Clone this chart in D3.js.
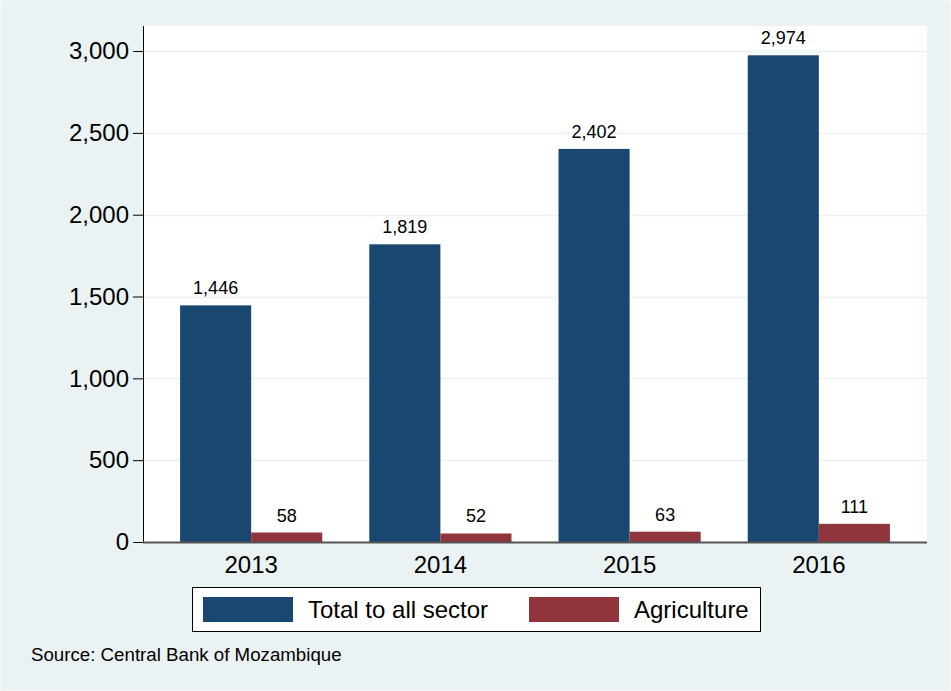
<!DOCTYPE html>
<html>
<head>
<meta charset="utf-8">
<script src="https://cdn.jsdelivr.net/npm/d3@7"></script>
<style>
  html, body { margin: 0; padding: 0; background: #eaf2f3; }
  svg { display: block; font-family: "Liberation Sans", Arial, sans-serif; }
</style>
</head>
<body>
<svg id="chart" width="951" height="691"></svg>
<script>
// Bank credit by year: total to all sectors vs. agriculture
const years = ["2013", "2014", "2015", "2016"];
const seriesNames = ["Total to all sector", "Agriculture"];
const totalValues = [1446, 1819, 2402, 2974];
const agricultureValues = [58, 52, 63, 111];
const yTicks = [0, 500, 1000, 1500, 2000, 2500, 3000];
const seriesColors = ["#1a476f", "#90353b"];
const sourceNote = "Source: Central Bank of Mozambique";

const svg = d3.select("#chart");
const W = 951, H = 691;
const plot = { left: 143, right: 927, top: 26, bottom: 542 };

// outer background with thin light border
svg.append("rect").attr("x", 0.5).attr("y", 0.5).attr("width", W - 1).attr("height", H - 1)
  .attr("fill", "#eaf2f3").attr("stroke", "#f4f8f9").attr("stroke-width", 1);

// plot area
svg.append("rect").attr("x", plot.left).attr("y", plot.top)
  .attr("width", plot.right - plot.left).attr("height", plot.bottom - plot.top)
  .attr("fill", "#ffffff");

const x0 = d3.scaleBand().domain(years).range([plot.left, plot.right])
  .paddingInner(0.2487).paddingOuter(0.196);
const x1 = d3.scaleBand().domain(seriesNames).range([0, x0.bandwidth()]).padding(0);
const y = d3.scaleLinear().domain([0, 3153]).range([plot.bottom, plot.top]);

// gridlines
svg.append("g").selectAll("line").data(yTicks.filter(d => d > 0)).join("line")
  .attr("x1", plot.left).attr("x2", plot.right)
  .attr("y1", d => Math.round(y(d)) + 0.5).attr("y2", d => Math.round(y(d)) + 0.5)
  .attr("stroke", "#eaf2f3").attr("stroke-width", 1.5);

// bars
const data = years.map((yr, i) => ({ year: yr, values: [totalValues[i], agricultureValues[i]] }));
const groups = svg.append("g").selectAll("g").data(data).join("g")
  .attr("transform", d => `translate(${x0(d.year)},0)`);

groups.selectAll("rect").data(d => d.values.map((v, k) => ({ name: seriesNames[k], v, k }))).join("rect")
  .attr("x", d => x1(d.name))
  .attr("width", x1.bandwidth())
  .attr("y", d => y(d.v))
  .attr("height", d => y(0) - y(d.v))
  .attr("fill", d => seriesColors[d.k]);

groups.selectAll("text").data(d => d.values.map((v, k) => ({ name: seriesNames[k], v, k }))).join("text")
  .attr("x", d => x1(d.name) + x1.bandwidth() / 2)
  .attr("y", d => y(d.v) - 11)
  .attr("text-anchor", "middle")
  .attr("font-size", 18)
  .attr("fill", "#000")
  .text(d => d3.format(",")(d.v));

// y axis
const yAxis = svg.append("g").attr("transform", `translate(${plot.left},0)`)
  .call(d3.axisLeft(y).tickValues(yTicks).tickFormat(d3.format(",")).tickSize(10).tickPadding(4));
yAxis.select(".domain").remove();
yAxis.selectAll(".tick line").attr("stroke", "#000");
yAxis.selectAll(".tick text").attr("font-size", 24).attr("fill", "#000")
  .attr("font-family", "Liberation Sans, Arial, sans-serif");
svg.append("line").attr("x1", plot.left + 0.5).attr("x2", plot.left + 0.5)
  .attr("y1", plot.top).attr("y2", plot.bottom).attr("stroke", "#000").attr("stroke-width", 1);

// x axis
const xAxis = svg.append("g").attr("transform", `translate(0,${plot.bottom})`)
  .call(d3.axisBottom(x0).tickSize(0).tickPadding(14));
xAxis.select(".domain").remove();
xAxis.selectAll(".tick text").attr("font-size", 24).attr("fill", "#000")
  .attr("font-family", "Liberation Sans, Arial, sans-serif");
svg.append("line").attr("x1", plot.left).attr("x2", plot.right)
  .attr("y1", plot.bottom + 0.5).attr("y2", plot.bottom + 0.5)
  .attr("stroke", "#555").attr("stroke-width", 2);

// legend
const legend = svg.append("g");
legend.append("rect").attr("x", 192.5).attr("y", 587.5).attr("width", 568).attr("height", 44)
  .attr("fill", "#fff").attr("stroke", "#000").attr("stroke-width", 1);
const legendPos = [{ sx: 203, tx: 308 }, { sx: 529, tx: 634 }];
seriesNames.forEach((name, k) => {
  legend.append("rect").attr("x", legendPos[k].sx).attr("y", 597).attr("width", 90).attr("height", 25)
    .attr("fill", seriesColors[k]);
  legend.append("text").attr("x", legendPos[k].tx).attr("y", 618)
    .attr("font-size", 24).attr("fill", "#000").text(name);
});

// source note
svg.append("text").attr("x", 31).attr("y", 661).attr("font-size", 18.7).attr("fill", "#000")
  .text(sourceNote);
</script>
</body>
</html>
